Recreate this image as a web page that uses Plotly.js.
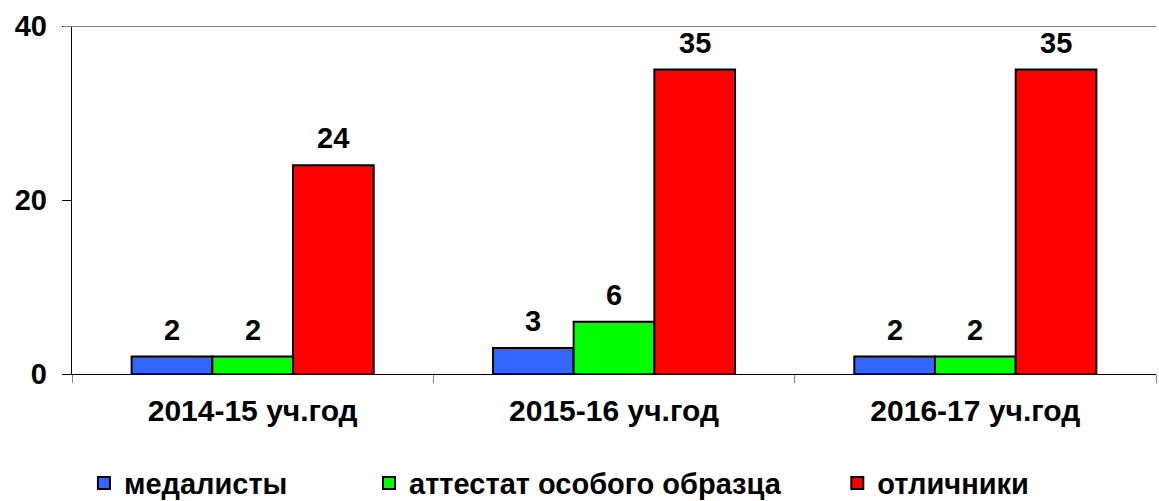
<!DOCTYPE html>
<html>
<head>
<meta charset="utf-8">
<script src="https://cdn.plot.ly/plotly-3.0.1.min.js"></script>
<style>html,body{margin:0;padding:0;background:#fff}#chart{width:1159px;height:501px}</style>
</head>
<body>
<div id="chart"></div>
<script>
const categories = ['2014-15 уч.год', '2015-16 уч.год', '2016-17 уч.год'];
const seriesNames = ['медалисты', 'аттестат особого образца', 'отличники'];
const medalists = [2, 3, 2];
const certificates = [2, 6, 2];
const excellent = [24, 35, 35];
const yTicks = [0, 20, 40];

const seriesValues = [medalists, certificates, excellent];
const colors = ['#3366FF', '#00FF00', '#FF0000'];
const FONT = '"Liberation Sans", Arial, sans-serif';
const bargap = 0.33;
const barW = (1 - bargap) / 3;
const legendX = [0.011, 0.274, 0.706];
const legendKeys = ['legend', 'legend2', 'legend3'];

const traces = seriesValues.map((vals, j) => ({
  type: 'bar',
  name: seriesNames[j],
  x: categories,
  y: vals,
  marker: {color: colors[j], line: {color: '#000', width: 2}},
  legend: legendKeys[j],
  showlegend: true,
  hoverinfo: 'none'
}));

const annotations = [];
seriesValues.forEach((vals, j) => {
  vals.forEach((v, i) => {
    annotations.push({
      x: i + (j - 1) * barW, y: v, xref: 'x', yref: 'y',
      text: String(v), showarrow: false, yanchor: 'bottom', yshift: 9,
      font: {family: FONT, size: 29, color: '#000', weight: 700}
    });
  });
});

const layout = {
  width: 1159, height: 501,
  margin: {l: 72, r: 3, t: 26, b: 127, autoexpand: false},
  showlegend: true,
  paper_bgcolor: '#fff', plot_bgcolor: '#fff',
  barmode: 'group', bargap: bargap, bargroupgap: 0,
  font: {family: FONT, color: '#000'},
  xaxis: {
    type: 'category', showline: true, linecolor: '#000', linewidth: 1.3,
    ticks: 'outside', tickson: 'boundaries', ticklen: 8, tickcolor: '#808080', tickwidth: 1,
    ticklabelstandoff: 10,
    tickfont: {family: FONT, size: 30, color: '#000', weight: 700},
    showgrid: false, zeroline: false, fixedrange: true, automargin: false
  },
  yaxis: {
    range: [0, 40], tickvals: yTicks, ticktext: yTicks.map(String),
    showline: true, linecolor: '#000', linewidth: 1.3,
    ticks: 'outside', ticklen: 9, tickcolor: '#000', tickwidth: 1,
    ticklabelstandoff: 9,
    tickfont: {family: FONT, size: 29, color: '#000', weight: 700},
    showgrid: false, zeroline: false, fixedrange: true, automargin: false
  },
  shapes: [{
    type: 'line', xref: 'paper', yref: 'y', x0: -0.0083, x1: 1, y0: 40, y1: 40,
    line: {color: '#808080', width: 2}
  }],
  annotations: annotations
};
legendKeys.forEach((k, j) => {
  layout[k] = {
    x: legendX[j], y: -0.314, xanchor: 'left', yanchor: 'middle',
    orientation: 'h', bgcolor: 'rgba(0,0,0,0)',
    font: {family: FONT, size: 29, color: '#000', weight: 700}
  };
});

Plotly.newPlot('chart', traces, layout, {staticPlot: true, displayModeBar: false});
</script>
</body>
</html>
